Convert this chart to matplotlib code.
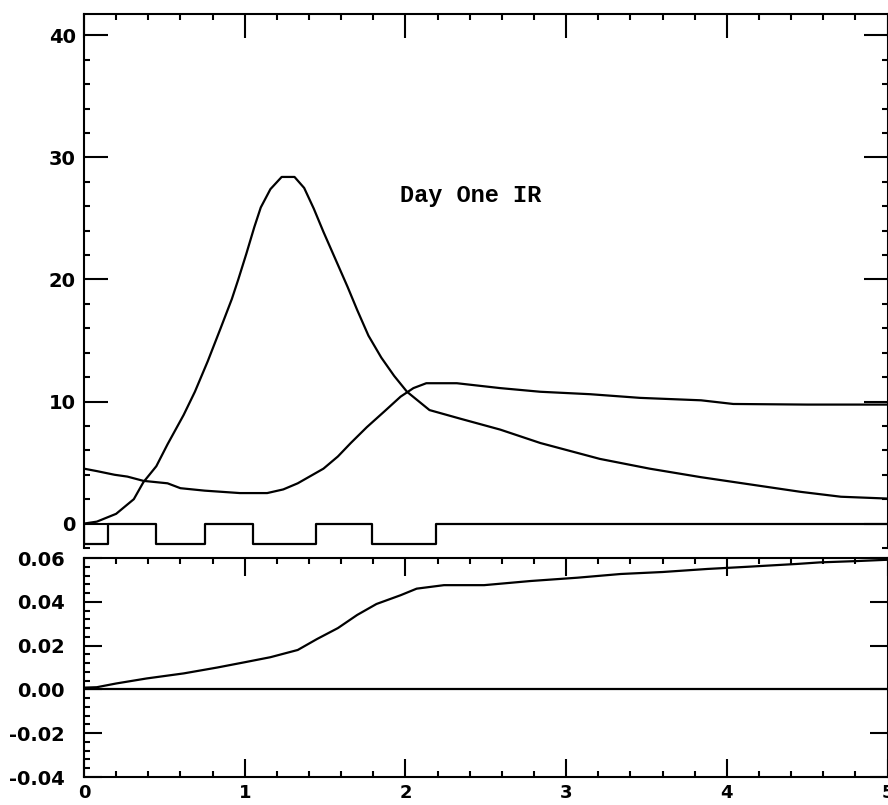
import numpy as np
import matplotlib.pyplot as plt
from matplotlib.ticker import MultipleLocator, FixedFormatter, FixedLocator

# ---- data ----
# peaked curve (top panel)
peak_x = [0.0, 0.08, 0.2, 0.31, 0.37, 0.45, 0.52, 0.62, 0.69, 0.77, 0.85, 0.92, 0.96, 1.01,
          1.06, 1.10, 1.16, 1.23, 1.31, 1.37, 1.43, 1.49, 1.56, 1.64, 1.70, 1.77, 1.85,
          1.93, 2.01, 2.15, 2.34, 2.59, 2.84, 3.21, 3.52, 3.84, 4.15, 4.46, 4.71, 5.0]
peak_y = [0.0, 0.16, 0.8, 2.0, 3.4, 4.7, 6.5, 8.9, 10.8, 13.3, 16.0, 18.4, 20.0, 22.1,
          24.3, 25.9, 27.4, 28.4, 28.4, 27.5, 25.8, 23.9, 21.8, 19.4, 17.5, 15.4, 13.6,
          12.1, 10.8, 9.3, 8.6, 7.7, 6.6, 5.3, 4.5, 3.8, 3.2, 2.6, 2.2, 2.05]

# broad curve (top panel)
broad_x = [0.0, 0.08, 0.19, 0.27, 0.37, 0.52, 0.60, 0.75, 0.97, 1.14, 1.24, 1.33, 1.41,
           1.49, 1.58, 1.66, 1.76, 1.87, 1.97, 2.05, 2.13, 2.32, 2.59, 2.84, 3.15, 3.46,
           3.84, 4.04, 4.5, 5.0]
broad_y = [4.5, 4.3, 4.0, 3.85, 3.5, 3.3, 2.9, 2.7, 2.5, 2.5, 2.8, 3.3, 3.9,
           4.5, 5.5, 6.6, 7.9, 9.2, 10.4, 11.1, 11.5, 11.5, 11.1, 10.8, 10.6, 10.3,
           10.1, 9.8, 9.75, 9.75]

# on/off pulses under the top panel
pulse_on = [0.0, 0.45, 1.05, 1.79]
pulse_off = [0.15, 0.75, 1.445, 2.19]
pulse_depth = -1.7

# cumulative curve (bottom panel)
cum_x = [0.0, 0.08, 0.2, 0.39, 0.62, 0.83, 1.0, 1.16, 1.33, 1.45, 1.58, 1.70, 1.82, 1.97,
         2.07, 2.24, 2.49, 2.78, 3.07, 3.34, 3.6, 3.88, 4.13, 4.44, 4.58, 4.81, 5.0]
cum_y = [0.0008, 0.001, 0.0027, 0.005, 0.0073, 0.010, 0.0124, 0.0147, 0.018, 0.023, 0.028,
         0.034, 0.039, 0.043, 0.046, 0.0476, 0.0476, 0.0495, 0.051, 0.0527, 0.0536, 0.055,
         0.056, 0.0573, 0.058, 0.0586, 0.0592]

x_ticks = [0, 1, 2, 3, 4, 5]
top_yticks = [0, 10, 20, 30, 40]
bot_yticks = [-0.04, -0.02, 0.0, 0.02, 0.04, 0.06]
bot_ylabels = ['-0.04', '-0.02', '0.00', '0.02', '0.04', '0.06']

W, H = 888, 805
fig = plt.figure(figsize=(W / 100, H / 100), dpi=100)

def frac(left, top, right, bottom):
    return [left / W, 1 - bottom / H, (right - left) / W, (bottom - top) / H]

lw = 1.6
tick_font = dict(family='DejaVu Sans', weight='bold', size=14)

# ---- top panel ----
ax1 = fig.add_axes(frac(84, 14, 887.5, 548))
ax1.plot(peak_x, peak_y, color='k', lw=lw)
ax1.plot(broad_x, broad_y, color='k', lw=lw)

# pulse train built from on/off times
px, py = [0.0], [0.0]
for a, b in zip(pulse_on, pulse_off):
    px += [a, a, b, b]
    py += [0.0, pulse_depth, pulse_depth, 0.0]
px.append(5.0)
py.append(0.0)
ax1.plot(px, py, color='k', lw=lw)

ax1.text(1.968, 26.9, 'Day One IR', family='Liberation Mono', weight='bold',
         fontsize=17, ha='left', va='center')

ax1.set_xlim(0, 5)
ax1.set_ylim(-2.0, 41.75)
ax1.spines['bottom'].set_visible(False)
for s in ['top', 'left', 'right']:
    ax1.spines[s].set_linewidth(1.5)
ax1.xaxis.set_major_locator(FixedLocator(x_ticks))
ax1.xaxis.set_minor_locator(MultipleLocator(0.2))
ax1.yaxis.set_major_locator(FixedLocator(top_yticks))
ax1.yaxis.set_minor_locator(MultipleLocator(2))
ax1.tick_params(axis='x', which='both', direction='in', bottom=False, top=True,
                labelbottom=False, labeltop=False)
ax1.tick_params(axis='y', which='both', direction='in', left=True, right=True)
ax1.tick_params(which='major', length=17, width=1.5)
ax1.tick_params(which='minor', length=4, width=1.5)
ax1.tick_params(axis='y', which='major', pad=6)
for lab in ax1.get_yticklabels():
    lab.set(**tick_font)

# ---- bottom panel ----
ax2 = fig.add_axes(frac(84, 558, 887.5, 777))
ax2.plot(cum_x, cum_y, color='k', lw=lw)
ax2.axhline(0.0, color='k', lw=lw)
ax2.set_xlim(0, 5)
ax2.set_ylim(-0.04, 0.06)
for s in ax2.spines.values():
    s.set_linewidth(1.5)
ax2.xaxis.set_major_locator(FixedLocator(x_ticks))
ax2.xaxis.set_minor_locator(MultipleLocator(0.2))
ax2.yaxis.set_major_locator(FixedLocator(bot_yticks))
ax2.yaxis.set_major_formatter(FixedFormatter(bot_ylabels))
ax2.yaxis.set_minor_locator(MultipleLocator(0.004))
ax2.tick_params(which='both', direction='in', top=True, right=True)
ax2.tick_params(which='major', length=13, width=1.5)
ax2.tick_params(which='minor', length=4, width=1.5)
ax2.tick_params(axis='y', which='minor', right=False)
ax2.tick_params(axis='y', which='major', pad=14)
ax2.tick_params(axis='x', which='major', pad=5)
for lab in ax2.get_yticklabels():
    lab.set(**tick_font)
for lab in ax2.get_xticklabels():
    lab.set(family='DejaVu Sans', weight='bold', size=13)

fig.savefig('out.png', dpi=100)
